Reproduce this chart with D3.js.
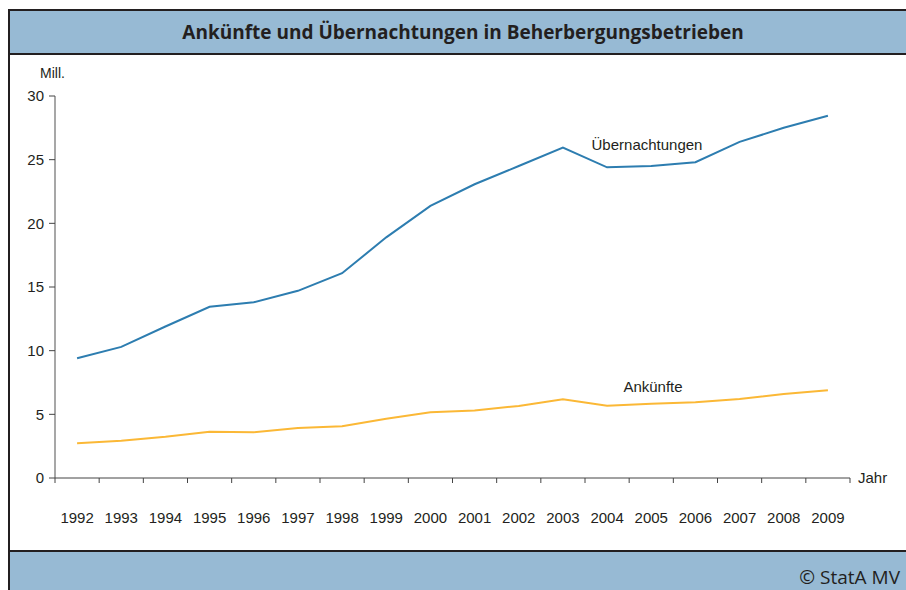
<!DOCTYPE html>
<html>
<head>
<meta charset="utf-8">
<script src="https://cdn.jsdelivr.net/npm/d3@7"></script>
<style>
  body { margin: 0; background: #fff; }
  svg { display: block; }
  svg text { font-family: "Liberation Sans", Arial, Helvetica, sans-serif; }
</style>
</head>
<body>
<div id="chart"></div>
<script>
// Daten (Mill.)
var jahre = ["1992","1993","1994","1995","1996","1997","1998","1999","2000",
             "2001","2002","2003","2004","2005","2006","2007","2008","2009"];
var uebernachtungen = [9.4, 10.3, 11.9, 13.45, 13.8, 14.7, 16.08, 18.9, 21.37,
                       23.07, 24.5, 25.95, 24.4, 24.5, 24.8, 26.4, 27.5, 28.45];
var ankuenfte = [2.72, 2.93, 3.24, 3.64, 3.59, 3.93, 4.06, 4.66, 5.16,
                 5.3, 5.66, 6.18, 5.68, 5.84, 5.95, 6.2, 6.6, 6.9];
var yTicks = [0, 5, 10, 15, 20, 25, 30];

var W = 906, H = 590;
var svg = d3.select("#chart").append("svg")
            .attr("width", W)
            .attr("height", H);

// Rahmen und Kopf-/Fussleiste
svg.append("rect").attr("x", 9).attr("y", 11).attr("width", W - 9).attr("height", 42)
   .attr("fill", "#97bad4");
svg.append("rect").attr("x", 9).attr("y", 552).attr("width", W - 9).attr("height", 38)
   .attr("fill", "#97bad4");
svg.append("rect").attr("x", 8).attr("y", 9).attr("width", W - 8).attr("height", 2).attr("fill", "#231f20");
svg.append("rect").attr("x", 8).attr("y", 53).attr("width", W - 8).attr("height", 2).attr("fill", "#231f20");
svg.append("rect").attr("x", 8).attr("y", 550).attr("width", W - 8).attr("height", 2).attr("fill", "#231f20");
svg.append("rect").attr("x", 8).attr("y", 9).attr("width", 2).attr("height", H - 9).attr("fill", "#231f20");

svg.append("text")
   .attr("x", 463).attr("y", 39)
   .attr("text-anchor", "middle")
   .style("font-family", "'Open Sans', sans-serif")
   .style("font-weight", "bold")
   .style("font-size", "19px")
   .attr("fill", "#231f20")
   .text("Ankünfte und Übernachtungen in Beherbergungsbetrieben");

svg.append("text")
   .attr("x", 900).attr("y", 584)
   .attr("text-anchor", "end")
   .style("font-family", "'Open Sans', sans-serif")
   .style("font-size", "19px")
   .attr("fill", "#231f20")
   .text("© StatA MV");

// Skalen
var x = d3.scaleBand().domain(jahre).range([55, 850]).padding(0);
var y = d3.scaleLinear().domain([0, 30]).range([478, 96]);
var cx = function(j) { return x(j) + x.bandwidth() / 2; };

// y-Achse
svg.append("line")
   .attr("x1", 55).attr("x2", 55).attr("y1", y(30)).attr("y2", y(0))
   .attr("stroke", "#8a8a8a").attr("stroke-width", 1.5);
svg.selectAll(".ytick").data(yTicks).enter().append("line")
   .attr("x1", 49).attr("x2", 55)
   .attr("y1", function(d) { return y(d); }).attr("y2", function(d) { return y(d); })
   .attr("stroke", "#444").attr("stroke-width", 1);
svg.selectAll(".ylab").data(yTicks).enter().append("text")
   .attr("x", 44)
   .attr("y", function(d) { return y(d); })
   .attr("dy", "0.35em")
   .attr("text-anchor", "end")
   .style("font-size", "15px")
   .attr("fill", "#231f20")
   .text(function(d) { return d; });
svg.append("text")
   .attr("x", 40).attr("y", 78)
   .style("font-size", "14px")
   .attr("fill", "#231f20")
   .text("Mill.");

// x-Achse
svg.append("line")
   .attr("x1", 55).attr("x2", 850).attr("y1", y(0)).attr("y2", y(0))
   .attr("stroke", "#444").attr("stroke-width", 1);
var grenzen = jahre.map(function(j) { return x(j); }).concat([x.range()[1]]);
svg.selectAll(".xtick").data(grenzen).enter().append("line")
   .attr("x1", function(d) { return d; }).attr("x2", function(d) { return d; })
   .attr("y1", y(0)).attr("y2", y(0) + 5)
   .attr("stroke", "#444").attr("stroke-width", 1);
svg.selectAll(".xlab").data(jahre).enter().append("text")
   .attr("x", function(d) { return cx(d); })
   .attr("y", 518)
   .attr("dy", "0.35em")
   .attr("text-anchor", "middle")
   .style("font-size", "15px")
   .attr("fill", "#231f20")
   .text(function(d) { return d; });
svg.append("text")
   .attr("x", 858).attr("y", y(0))
   .attr("dy", "0.35em")
   .style("font-size", "15px")
   .attr("fill", "#231f20")
   .text("Jahr");

// Linien
var linie = function(werte) {
  return d3.line()
           .x(function(d, i) { return cx(jahre[i]); })
           .y(function(d) { return y(d); })(werte);
};
svg.append("path").attr("d", linie(ankuenfte))
   .attr("fill", "none").attr("stroke", "#fbb836").attr("stroke-width", 2);
svg.append("path").attr("d", linie(uebernachtungen))
   .attr("fill", "none").attr("stroke", "#2d7db0").attr("stroke-width", 2);

// Beschriftungen
svg.append("text")
   .attr("x", 647).attr("y", 145).attr("dy", "0.35em")
   .attr("text-anchor", "middle")
   .style("font-size", "15px")
   .attr("fill", "#231f20")
   .text("Übernachtungen");
svg.append("text")
   .attr("x", 653).attr("y", 387).attr("dy", "0.35em")
   .attr("text-anchor", "middle")
   .style("font-size", "15px")
   .attr("fill", "#231f20")
   .text("Ankünfte");
</script>
</body>
</html>
